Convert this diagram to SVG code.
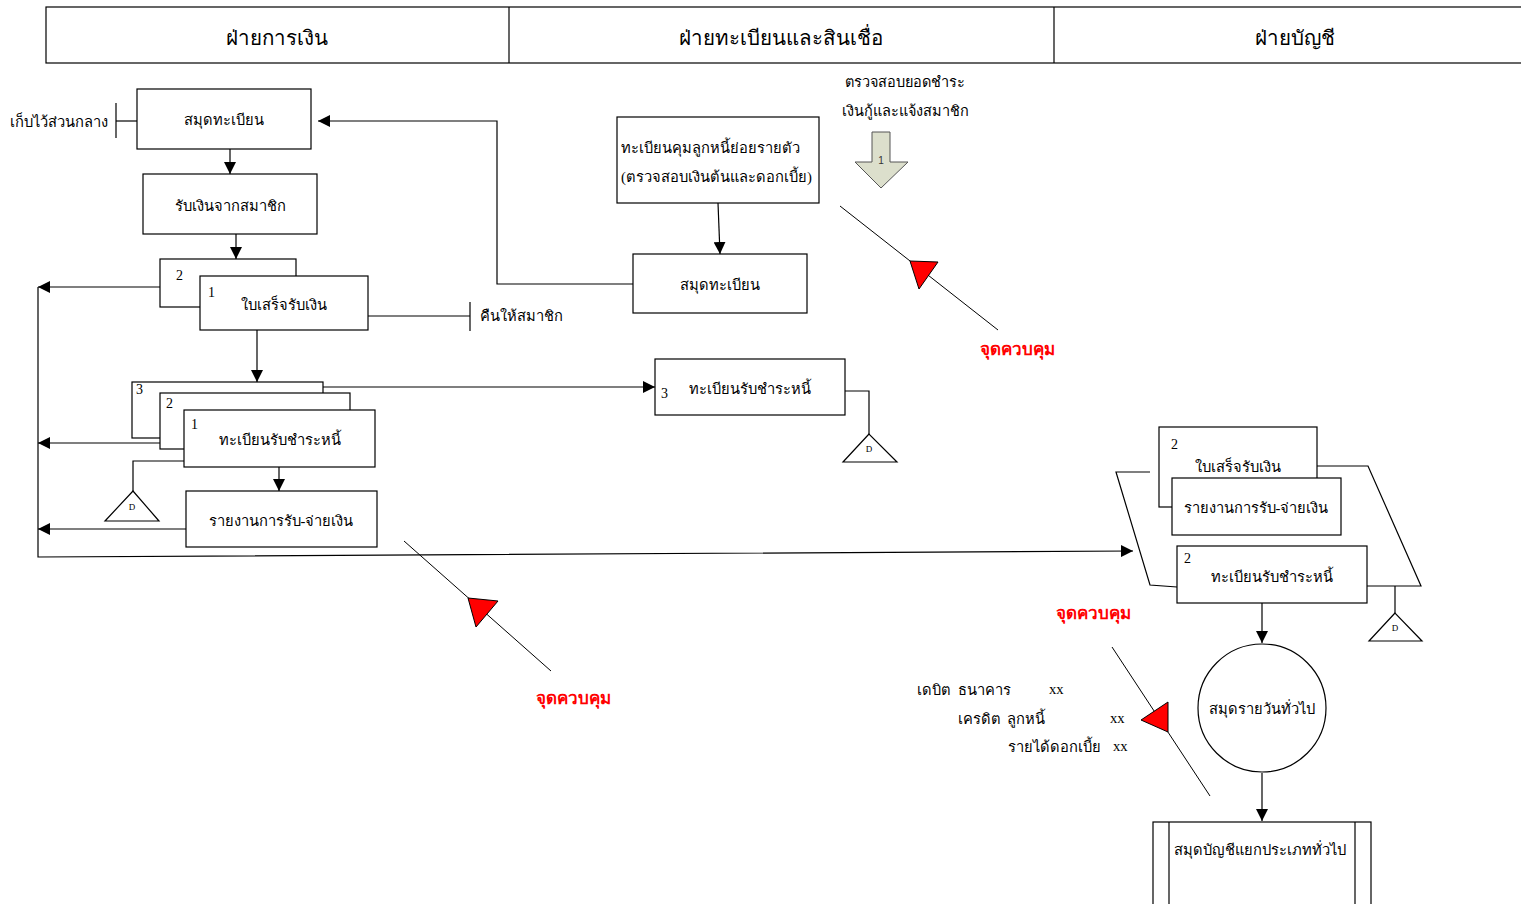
<svg xmlns="http://www.w3.org/2000/svg" width="1521" height="904" viewBox="0 0 1521 904">
  <style>
    .box { fill: #fff; stroke: #000; stroke-width: 1.2; }
    .ln { fill: none; stroke: #000; stroke-width: 1.2; }
    .thin { fill: none; stroke: #000; stroke-width: 1; }
    .t { font-family: "Liberation Serif", serif; font-size: 14.7px; fill: #000; text-anchor: middle; dominant-baseline: middle; }
    .tl { font-family: "Liberation Serif", serif; font-size: 14.7px; fill: #000; dominant-baseline: middle; }
    .num { font-family: "Liberation Serif", serif; font-size: 14px; fill: #000; dominant-baseline: middle; }
    .hd { font-family: "Liberation Serif", serif; font-size: 20.5px; fill: #000; text-anchor: middle; dominant-baseline: middle; }
    .ss { font-family: "Liberation Sans", sans-serif; font-size: 14.5px; fill: #000; text-anchor: middle; dominant-baseline: middle; }
    .red { font-family: "Liberation Sans", sans-serif; font-size: 17px; font-weight: bold; fill: #f00; text-anchor: middle; dominant-baseline: middle; }
    .d { font-family: "Liberation Serif", serif; font-size: 9px; fill: #000; text-anchor: middle; dominant-baseline: middle; }
    .flag { fill: #f00; stroke: #000; stroke-width: 1; }
    .tri { fill: #fff; stroke: #000; stroke-width: 1.2; }
  </style>
  <defs>
    <marker id="ah" viewBox="0 0 12 12" refX="12" refY="6" markerWidth="12" markerHeight="12" markerUnits="userSpaceOnUse" orient="auto">
      <path d="M0,0 L12,6 L0,12 z" fill="#000"/>
    </marker>
  </defs>

  <!-- department header -->
  <g id="header">
    <rect x="46" y="7" width="1480" height="56" class="box" stroke-width="1.5"/>
    <line x1="509" y1="7" x2="509" y2="63" class="ln"/>
    <line x1="1054" y1="7" x2="1054" y2="63" class="ln"/>
    <text x="277" y="40" class="hd">ฝ่ายการเงิน</text>
    <text x="781" y="40" class="hd">ฝ่ายทะเบียนและสินเชื่อ</text>
    <text x="1295" y="40" class="hd">ฝ่ายบัญชี</text>
  </g>

  <!-- connectors -->
  <g id="connectors">
    <line x1="230" y1="149" x2="230" y2="174" class="ln" marker-end="url(#ah)"/>
    <line x1="236" y1="234" x2="236" y2="259" class="ln" marker-end="url(#ah)"/>
    <line x1="257" y1="330" x2="257" y2="382" class="ln" marker-end="url(#ah)"/>
    <line x1="279" y1="467" x2="279" y2="491" class="ln" marker-end="url(#ah)"/>
    <!-- store centrally -->
    <polyline points="137,121 116,121" class="ln"/>
    <line x1="116" y1="103" x2="116" y2="138" class="ln"/>
    <!-- return to member -->
    <polyline points="368,316 470,316" class="ln"/>
    <line x1="470" y1="302" x2="470" y2="331" class="ln"/>
    <!-- copies to the left bus -->
    <line x1="160" y1="287" x2="38" y2="287" class="ln" marker-end="url(#ah)"/>
    <line x1="160" y1="443" x2="38" y2="443" class="ln" marker-end="url(#ah)"/>
    <line x1="186" y1="529" x2="38" y2="529" class="ln" marker-end="url(#ah)"/>
    <polyline points="38,287 38,557 1133,551" class="ln" marker-end="url(#ah)"/>
    <!-- copy 3 to credit department -->
    <line x1="323" y1="387" x2="655" y2="387" class="ln" marker-end="url(#ah)"/>
    <!-- file D -->
    <polyline points="184,461 133,461 133,491" class="ln"/>
    <polyline points="845,391 869,391 869,434" class="ln"/>
    <!-- credit department flows -->
    <line x1="718" y1="203" x2="720" y2="254" class="ln" marker-end="url(#ah)"/>
    <polyline points="633,284 497,284 497,121 318,121" class="ln" marker-end="url(#ah)"/>
    <!-- accounting flows -->
    <line x1="1262" y1="603" x2="1262" y2="643" class="ln" marker-end="url(#ah)"/>
    <line x1="1262" y1="773" x2="1262" y2="821" class="ln" marker-end="url(#ah)"/>
    <polyline points="1150,472 1116,472 1150,585 1177,587" class="ln"/>
    <polyline points="1317,466 1368,466 1421,586 1367,586" class="ln"/>
    <line x1="1395" y1="586" x2="1395" y2="613" class="ln"/>
  </g>

  <!-- finance department -->
  <g id="n-register-top">
    <rect x="137" y="89" width="174" height="60" class="box"/>
    <text x="224" y="122" class="t">สมุดทะเบียน</text>
  </g>
  <text x="10" y="124" class="tl">เก็บไว้ส่วนกลาง</text>
  <g id="n-receive">
    <rect x="143" y="174" width="174" height="60" class="box"/>
    <text x="230" y="208" class="t">รับเงินจากสมาชิก</text>
  </g>
  <g id="n-receipt">
    <rect x="160" y="259" width="136" height="48" class="box"/>
    <text x="176" y="277" class="num">2</text>
    <rect x="200" y="276" width="168" height="54" class="box"/>
    <text x="208" y="294" class="num">1</text>
    <text x="284" y="307" class="t">ใบเสร็จรับเงิน</text>
  </g>
  <text x="480" y="318" class="tl">คืนให้สมาชิก</text>
  <g id="n-debt-ledger">
    <rect x="132" y="382" width="191" height="56" class="box"/>
    <text x="136" y="391" class="num">3</text>
    <rect x="160" y="393" width="190" height="56" class="box"/>
    <text x="166" y="405" class="num">2</text>
    <rect x="184" y="410" width="191" height="57" class="box"/>
    <text x="191" y="426" class="num">1</text>
    <text x="280" y="442" class="t">ทะเบียนรับชำระหนี้</text>
  </g>
  <g id="n-file-d1">
    <polygon points="133,491 105,521 159,521" class="tri"/>
    <text x="132" y="508" class="d">D</text>
  </g>
  <g id="n-report">
    <rect x="186" y="491" width="191" height="56" class="box"/>
    <text x="281" y="523" class="t">รายงานการรับ-จ่ายเงิน</text>
  </g>
  <g id="n-control-1">
    <line x1="404" y1="541" x2="551" y2="671" class="thin"/>
    <polygon points="468,598 498,601 476,627" class="flag"/>
    <text x="573" y="700" class="red">จุดควบคุม</text>
  </g>

  <!-- registration and credit department -->
  <g id="n-sub-ledger">
    <rect x="617" y="117" width="202" height="86" class="box"/>
    <text x="621" y="150" class="tl">ทะเบียนคุมลูกหนี้ย่อยรายตัว</text>
    <text x="621" y="179" class="tl">(ตรวจสอบเงินต้นและดอกเบี้ย)</text>
  </g>
  <g id="n-register-mid">
    <rect x="633" y="254" width="174" height="59" class="box"/>
    <text x="720" y="287" class="t">สมุดทะเบียน</text>
  </g>
  <g id="n-debt-ledger-3">
    <rect x="655" y="359" width="190" height="56" class="box"/>
    <text x="661" y="395" class="num">3</text>
    <text x="750" y="391" class="t">ทะเบียนรับชำระหนี้</text>
  </g>
  <g id="n-file-d2">
    <polygon points="869,434 843,462 897,462" class="tri"/>
    <text x="869" y="450" class="d">D</text>
  </g>
  <g id="n-check">
    <text x="905" y="83" class="ss">ตรวจสอบยอดชำระ</text>
    <text x="905" y="112" class="ss">เงินกู้และแจ้งสมาชิก</text>
    <polygon points="872,132 890,132 890,162 908,162 881,188 855,162 872,162" fill="#dcdfcc" stroke="#555" stroke-width="1"/>
    <text x="881" y="161" font-family="Liberation Sans, sans-serif" font-size="10" text-anchor="middle" dominant-baseline="middle" fill="#333">1</text>
  </g>
  <g id="n-control-2">
    <line x1="840" y1="206" x2="998" y2="330" class="thin"/>
    <polygon points="910,261 938,262 919,289" class="flag"/>
    <text x="1017" y="351" class="red">จุดควบคุม</text>
  </g>

  <!-- accounting department -->
  <g id="n-acc-docs">
    <rect x="1159" y="427" width="158" height="80" class="box"/>
    <text x="1171" y="446" class="num">2</text>
    <text x="1238" y="469" class="t">ใบเสร็จรับเงิน</text>
    <rect x="1172" y="478" width="169" height="57" class="box"/>
    <text x="1256" y="510" class="t">รายงานการรับ-จ่ายเงิน</text>
    <rect x="1177" y="546" width="190" height="57" class="box"/>
    <text x="1184" y="560" class="num">2</text>
    <text x="1272" y="579" class="t">ทะเบียนรับชำระหนี้</text>
  </g>
  <g id="n-file-d3">
    <polygon points="1395,613 1369,641 1422,641" class="tri"/>
    <text x="1395" y="629" class="d">D</text>
  </g>
  <g id="n-journal">
    <circle cx="1262" cy="708" r="64" class="box"/>
    <text x="1262" y="711" class="t">สมุดรายวันทั่วไป</text>
  </g>
  <g id="n-ledger">
    <rect x="1153" y="822" width="218" height="90" class="box"/>
    <line x1="1169" y1="822" x2="1169" y2="904" class="ln"/>
    <line x1="1355" y1="822" x2="1355" y2="904" class="ln"/>
    <text x="1260" y="852" class="t">สมุดบัญชีแยกประเภททั่วไป</text>
  </g>
  <g id="n-entry">
    <text x="917" y="692" class="tl">เดบิต</text>
    <text x="958" y="692" class="tl">ธนาคาร</text>
    <text x="1049" y="691" class="tl">xx</text>
    <text x="958" y="721" class="tl">เครดิต</text>
    <text x="1007" y="721" class="tl">ลูกหนี้</text>
    <text x="1110" y="720" class="tl">xx</text>
    <text x="1008" y="749" class="tl">รายได้ดอกเบี้ย</text>
    <text x="1113" y="748" class="tl">xx</text>
  </g>
  <g id="n-control-3">
    <line x1="1112" y1="647" x2="1210" y2="796" class="thin"/>
    <polygon points="1141,720 1168,702 1168,732" class="flag"/>
    <text x="1093" y="615" class="red">จุดควบคุม</text>
  </g>
</svg>
